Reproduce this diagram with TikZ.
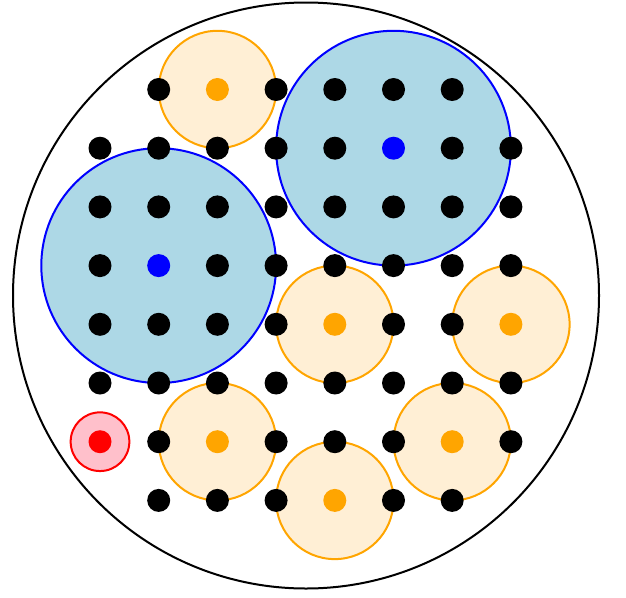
\documentclass[tikz,border=0pt]{standalone}
\begin{document}
\begin{tikzpicture}[x=1pt,y=-1pt,
  dot/.style={circle,fill=black,inner sep=0pt,minimum size=23pt},
  odot/.style={dot,fill=orangeC},
  bdot/.style={dot,fill=blue},
  rdot/.style={dot,fill=red},
  ozone/.style={circle,draw=orangeC,fill=orangeF,line width=2pt,inner sep=0pt,minimum size=117.4pt},
  bzone/.style={circle,draw=blue,fill=blueF,line width=2pt,inner sep=0pt,minimum size=234.8pt},
  rzone/.style={circle,draw=red,fill=pinkF,line width=2pt,inner sep=0pt,minimum size=58.7pt},
  outer/.style={circle,draw=black,line width=2pt,inner sep=0pt,minimum size=586pt}]
\definecolor{orangeC}{HTML}{FFA500}
\definecolor{orangeF}{HTML}{FFEFD5}
\definecolor{blueF}{HTML}{ADD8E6}
\definecolor{pinkF}{HTML}{FFC0CB}
\useasboundingbox (0,0) rectangle (626,597);
\def\gx#1{100+58.7*#1}
\node[outer] (big) at (306,295.5) {};
% zones
\node[ozone] (o1) at ({\gx{2}},{89.5+58.7*0}) {};
\node[ozone] (o2) at ({\gx{4}},{89.5+58.7*4}) {};
\node[ozone] (o3) at ({\gx{7}},{89.5+58.7*4}) {};
\node[ozone] (o4) at ({\gx{2}},{89.5+58.7*6}) {};
\node[ozone] (o5) at ({\gx{6}},{89.5+58.7*6}) {};
\node[ozone] (o6) at ({\gx{4}},{89.5+58.7*7}) {};
\node[bzone] (b1) at ({\gx{5}},{89.5+58.7*1}) {};
\node[bzone] (b2) at ({\gx{1}},{89.5+58.7*3}) {};
\node[rzone] (r1) at ({\gx{0}},{89.5+58.7*6}) {};
% dots: row r, list of column:style
\foreach \r/\cols in {
  0/{1/dot,2/odot,3/dot,4/dot,5/dot,6/dot},
  1/{0/dot,1/dot,2/dot,3/dot,4/dot,5/bdot,6/dot,7/dot},
  2/{0/dot,1/dot,2/dot,3/dot,4/dot,5/dot,6/dot,7/dot},
  3/{0/dot,1/bdot,2/dot,3/dot,4/dot,5/dot,6/dot,7/dot},
  4/{0/dot,1/dot,2/dot,3/dot,4/odot,5/dot,6/dot,7/odot},
  5/{0/dot,1/dot,2/dot,3/dot,4/dot,5/dot,6/dot,7/dot},
  6/{0/rdot,1/dot,2/odot,3/dot,4/dot,5/dot,6/odot,7/dot},
  7/{1/dot,2/dot,3/dot,4/odot,5/dot,6/dot}}{
  \foreach \c/\s in \cols {
    \node[\s] (d-\r-\c) at ({100+58.7*\c},{89.5+58.7*\r}) {};
  }
}
\end{tikzpicture}
\end{document}
